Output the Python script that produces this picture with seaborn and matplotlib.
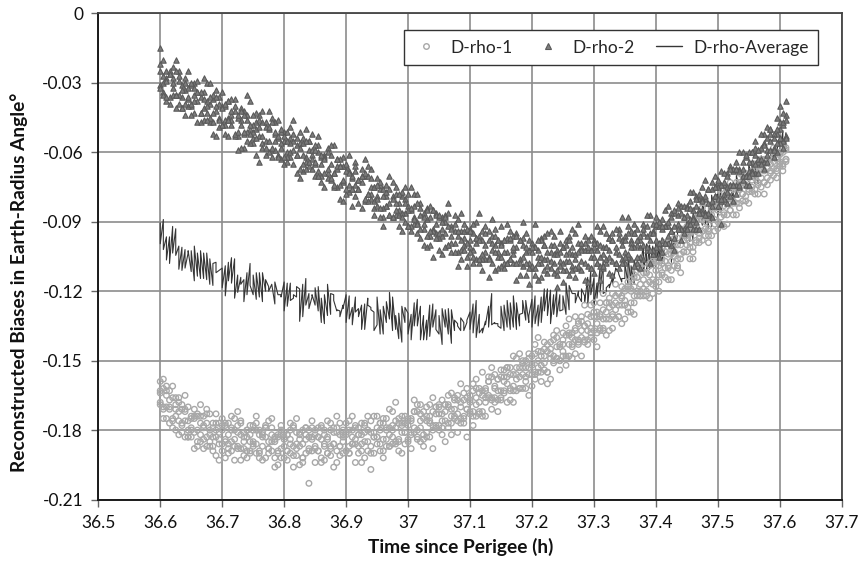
import numpy as np
import pandas as pd
import matplotlib
matplotlib.use("Agg")
import matplotlib.pyplot as plt
import seaborn as sns
from matplotlib.lines import Line2D
from matplotlib.ticker import FixedLocator, FuncFormatter

# ---------------- data ----------------
time_h = [
    36.600, 36.605, 36.610, 36.615, 36.620, 36.625, 36.630, 36.635, 36.640, 36.645,
    36.650, 36.655, 36.660, 36.665, 36.670, 36.675, 36.680, 36.685, 36.690, 36.695,
    36.700, 36.705, 36.710, 36.715, 36.720, 36.725, 36.730, 36.735, 36.740, 36.745,
    36.750, 36.755, 36.760, 36.765, 36.770, 36.775, 36.780, 36.785, 36.790, 36.795,
    36.800, 36.805, 36.810, 36.815, 36.820, 36.825, 36.830, 36.835, 36.840, 36.845,
    36.850, 36.855, 36.860, 36.865, 36.870, 36.875, 36.880, 36.885, 36.890, 36.895,
    36.900, 36.905, 36.910, 36.915, 36.920, 36.925, 36.930, 36.935, 36.940, 36.945,
    36.950, 36.955, 36.960, 36.965, 36.970, 36.975, 36.980, 36.985, 36.990, 36.995,
    37.000, 37.005, 37.010, 37.015, 37.020, 37.025, 37.030, 37.035, 37.040, 37.045,
    37.050, 37.055, 37.060, 37.065, 37.070, 37.075, 37.080, 37.085, 37.090, 37.095,
    37.100, 37.105, 37.110, 37.115, 37.120, 37.125, 37.130, 37.135, 37.140, 37.145,
    37.150, 37.155, 37.160, 37.165, 37.170, 37.175, 37.180, 37.185, 37.190, 37.195,
    37.200, 37.205, 37.210, 37.215, 37.220, 37.225, 37.230, 37.235, 37.240, 37.245,
    37.250, 37.255, 37.260, 37.265, 37.270, 37.275, 37.280, 37.285, 37.290, 37.295,
    37.300, 37.305, 37.310, 37.315, 37.320, 37.325, 37.330, 37.335, 37.340, 37.345,
    37.350, 37.355, 37.360, 37.365, 37.370, 37.375, 37.380, 37.385, 37.390, 37.395,
    37.400, 37.405, 37.410, 37.415, 37.420, 37.425, 37.430, 37.435, 37.440, 37.445,
    37.450, 37.455, 37.460, 37.465, 37.470, 37.475, 37.480, 37.485, 37.490, 37.495,
    37.500, 37.505, 37.510, 37.515, 37.520, 37.525, 37.530, 37.535, 37.540, 37.545,
    37.550, 37.555, 37.560, 37.565, 37.570, 37.575, 37.580, 37.585, 37.590, 37.595,
    37.600, 37.605, 37.610,
]

rho1_a = [
    -0.159, -0.170, -0.165, -0.177, -0.161, -0.174, -0.172, -0.181, -0.171, -0.180,
    -0.183, -0.171, -0.180, -0.169, -0.188, -0.177, -0.187, -0.179, -0.173, -0.186,
    -0.180, -0.192, -0.177, -0.185, -0.175, -0.188, -0.182, -0.191, -0.180, -0.185,
    -0.187, -0.177, -0.192, -0.182, -0.179, -0.190, -0.175, -0.185, -0.189, -0.182,
    -0.181, -0.193, -0.184, -0.178, -0.188, -0.195, -0.180, -0.190, -0.183, -0.176,
    -0.187, -0.179, -0.194, -0.182, -0.190, -0.177, -0.186, -0.181, -0.191, -0.182,
    -0.177, -0.187, -0.183, -0.194, -0.179, -0.189, -0.181, -0.174, -0.187, -0.190,
    -0.186, -0.180, -0.189, -0.175, -0.182, -0.172, -0.186, -0.177, -0.190, -0.174,
    -0.176, -0.188, -0.172, -0.180, -0.169, -0.182, -0.176, -0.183, -0.166, -0.178,
    -0.180, -0.167, -0.176, -0.169, -0.182, -0.171, -0.165, -0.177, -0.167, -0.171,
    -0.165, -0.174, -0.158, -0.168, -0.174, -0.163, -0.159, -0.167, -0.156, -0.172,
    -0.163, -0.154, -0.168, -0.156, -0.163, -0.149, -0.157, -0.151, -0.162, -0.153,
    -0.148, -0.155, -0.150, -0.159, -0.142, -0.155, -0.145, -0.148, -0.137, -0.150,
    -0.148, -0.135, -0.143, -0.138, -0.147, -0.134, -0.148, -0.135, -0.130, -0.138,
    -0.131, -0.138, -0.125, -0.132, -0.139, -0.125, -0.130, -0.117, -0.131, -0.123,
    -0.126, -0.116, -0.129, -0.118, -0.114, -0.122, -0.108, -0.122, -0.113, -0.115,
    -0.107, -0.113, -0.101, -0.114, -0.104, -0.115, -0.103, -0.097, -0.106, -0.098,
    -0.103, -0.095, -0.103, -0.089, -0.095, -0.084, -0.096, -0.088, -0.096, -0.083,
    -0.083, -0.091, -0.083, -0.075, -0.085, -0.075, -0.087, -0.076, -0.078, -0.069,
    -0.077, -0.068, -0.078, -0.069, -0.063, -0.073, -0.067, -0.072, -0.062, -0.067,
    -0.060, -0.066, -0.059,
]

rho1_b = [
    -0.168, -0.158, -0.175, -0.167, -0.175, -0.166, -0.182, -0.171, -0.176, -0.170,
    -0.174, -0.188, -0.173, -0.182, -0.179, -0.187, -0.173, -0.183, -0.191, -0.177,
    -0.189, -0.178, -0.186, -0.174, -0.193, -0.181, -0.176, -0.188, -0.192, -0.178,
    -0.178, -0.186, -0.180, -0.193, -0.183, -0.176, -0.189, -0.196, -0.182, -0.192,
    -0.192, -0.182, -0.186, -0.191, -0.175, -0.187, -0.194, -0.179, -0.189, -0.184,
    -0.180, -0.189, -0.184, -0.193, -0.176, -0.188, -0.179, -0.194, -0.182, -0.190,
    -0.189, -0.176, -0.186, -0.179, -0.190, -0.182, -0.192, -0.180, -0.176, -0.183,
    -0.174, -0.189, -0.177, -0.184, -0.171, -0.186, -0.179, -0.189, -0.174, -0.181,
    -0.185, -0.175, -0.179, -0.169, -0.185, -0.175, -0.181, -0.169, -0.178, -0.170,
    -0.173, -0.182, -0.169, -0.177, -0.164, -0.175, -0.181, -0.168, -0.177, -0.162,
    -0.172, -0.160, -0.174, -0.164, -0.165, -0.174, -0.166, -0.153, -0.168, -0.158,
    -0.154, -0.164, -0.157, -0.167, -0.148, -0.158, -0.162, -0.150, -0.153, -0.165,
    -0.161, -0.143, -0.155, -0.148, -0.151, -0.143, -0.158, -0.139, -0.149, -0.144,
    -0.143, -0.149, -0.132, -0.149, -0.136, -0.141, -0.131, -0.142, -0.137, -0.126,
    -0.141, -0.131, -0.136, -0.121, -0.129, -0.137, -0.121, -0.128, -0.121, -0.134,
    -0.119, -0.129, -0.120, -0.125, -0.120, -0.109, -0.119, -0.112, -0.123, -0.107,
    -0.118, -0.107, -0.113, -0.107, -0.115, -0.101, -0.105, -0.110, -0.093, -0.103,
    -0.097, -0.106, -0.091, -0.098, -0.087, -0.098, -0.090, -0.099, -0.084, -0.089,
    -0.093, -0.081, -0.087, -0.091, -0.073, -0.081, -0.076, -0.084, -0.070, -0.079,
    -0.070, -0.075, -0.069, -0.078, -0.071, -0.063, -0.074, -0.065, -0.070, -0.060,
    -0.066, -0.058, -0.064,
]

rho1_c = [
    -0.164, -0.175, -0.163, -0.171, -0.166, -0.180, -0.166, -0.178, -0.165, -0.183,
    -0.180, -0.175, -0.187, -0.174, -0.184, -0.171, -0.182, -0.187, -0.180, -0.193,
    -0.175, -0.184, -0.190, -0.179, -0.187, -0.172, -0.193, -0.181, -0.183, -0.189,
    -0.185, -0.174, -0.190, -0.181, -0.192, -0.188, -0.179, -0.183, -0.195, -0.180,
    -0.183, -0.189, -0.177, -0.196, -0.181, -0.184, -0.192, -0.182, -0.203, -0.179,
    -0.194, -0.183, -0.178, -0.186, -0.190, -0.180, -0.196, -0.174, -0.187, -0.183,
    -0.181, -0.190, -0.174, -0.186, -0.182, -0.194, -0.178, -0.185, -0.197, -0.174,
    -0.183, -0.177, -0.192, -0.180, -0.187, -0.178, -0.168, -0.184, -0.178, -0.186,
    -0.178, -0.182, -0.167, -0.184, -0.173, -0.187, -0.170, -0.177, -0.188, -0.173,
    -0.169, -0.176, -0.185, -0.165, -0.174, -0.167, -0.176, -0.160, -0.174, -0.183,
    -0.168, -0.178, -0.162, -0.172, -0.155, -0.168, -0.157, -0.171, -0.161, -0.163,
    -0.167, -0.159, -0.153, -0.162, -0.168, -0.153, -0.147, -0.162, -0.157, -0.147,
    -0.151, -0.158, -0.140, -0.155, -0.145, -0.160, -0.147, -0.151, -0.140, -0.154,
    -0.138, -0.152, -0.139, -0.143, -0.131, -0.143, -0.137, -0.126, -0.143, -0.140,
    -0.125, -0.144, -0.131, -0.137, -0.125, -0.127, -0.136, -0.122, -0.126, -0.118,
    -0.132, -0.119, -0.115, -0.130, -0.111, -0.120, -0.115, -0.120, -0.109, -0.121,
    -0.111, -0.120, -0.106, -0.099, -0.109, -0.111, -0.097, -0.106, -0.112, -0.094,
    -0.092, -0.099, -0.106, -0.094, -0.099, -0.089, -0.082, -0.094, -0.089, -0.094,
    -0.085, -0.076, -0.092, -0.078, -0.082, -0.087, -0.073, -0.069, -0.081, -0.074,
    -0.082, -0.072, -0.065, -0.074, -0.067, -0.078, -0.063, -0.068, -0.058, -0.071,
    -0.061, -0.068, -0.063,
]

rho1_d = [
    -0.163, -0.171, -0.161, -0.170, -0.176, -0.169, -0.176, -0.169, -0.183, -0.176,
    -0.179, -0.174, -0.185, -0.177, -0.174, -0.183, -0.180, -0.189, -0.177, -0.184,
    -0.178, -0.185, -0.182, -0.189, -0.180, -0.187, -0.177, -0.185, -0.189, -0.182,
    -0.186, -0.180, -0.189, -0.183, -0.178, -0.185, -0.182, -0.192, -0.183, -0.188,
    -0.184, -0.189, -0.180, -0.187, -0.191, -0.182, -0.186, -0.179, -0.188, -0.183,
    -0.188, -0.183, -0.192, -0.180, -0.184, -0.187, -0.181, -0.189, -0.177, -0.185,
    -0.182, -0.190, -0.180, -0.184, -0.187, -0.177, -0.185, -0.180, -0.190, -0.181,
    -0.183, -0.177, -0.184, -0.179, -0.187, -0.180, -0.176, -0.185, -0.177, -0.181,
    -0.175, -0.181, -0.172, -0.183, -0.176, -0.184, -0.174, -0.176, -0.180, -0.170,
    -0.178, -0.173, -0.169, -0.179, -0.171, -0.174, -0.167, -0.175, -0.164, -0.171,
    -0.167, -0.172, -0.166, -0.162, -0.172, -0.162, -0.165, -0.157, -0.166, -0.167,
    -0.166, -0.157, -0.160, -0.153, -0.161, -0.156, -0.162, -0.153, -0.150, -0.156,
    -0.152, -0.156, -0.146, -0.152, -0.154, -0.146, -0.149, -0.141, -0.149, -0.143,
    -0.146, -0.139, -0.148, -0.140, -0.137, -0.142, -0.133, -0.141, -0.134, -0.136,
    -0.129, -0.134, -0.137, -0.128, -0.132, -0.123, -0.131, -0.125, -0.131, -0.122,
    -0.124, -0.118, -0.125, -0.114, -0.122, -0.117, -0.122, -0.112, -0.116, -0.108,
    -0.109, -0.116, -0.108, -0.110, -0.101, -0.107, -0.100, -0.109, -0.100, -0.103,
    -0.100, -0.094, -0.101, -0.093, -0.097, -0.087, -0.093, -0.096, -0.085, -0.091,
    -0.084, -0.088, -0.079, -0.087, -0.080, -0.082, -0.075, -0.082, -0.073, -0.081,
    -0.076, -0.070, -0.076, -0.066, -0.075, -0.068, -0.071, -0.063, -0.067, -0.063,
    -0.065, -0.060, -0.063,
]

rho1_e = [
    -0.169, -0.162, -0.170, -0.163, -0.179, -0.171, -0.168, -0.177, -0.172, -0.183,
    -0.175, -0.181, -0.174, -0.185, -0.178, -0.173, -0.185, -0.177, -0.183, -0.181,
    -0.186, -0.177, -0.188, -0.180, -0.184, -0.178, -0.188, -0.183, -0.180, -0.190,
    -0.180, -0.190, -0.182, -0.187, -0.179, -0.188, -0.185, -0.184, -0.190, -0.178,
    -0.187, -0.182, -0.190, -0.179, -0.186, -0.181, -0.192, -0.184, -0.180, -0.189,
    -0.182, -0.189, -0.179, -0.187, -0.183, -0.191, -0.186, -0.179, -0.187, -0.180,
    -0.189, -0.180, -0.186, -0.178, -0.182, -0.186, -0.177, -0.189, -0.181, -0.183,
    -0.179, -0.186, -0.175, -0.187, -0.179, -0.183, -0.185, -0.175, -0.181, -0.177,
    -0.184, -0.176, -0.181, -0.172, -0.179, -0.172, -0.183, -0.174, -0.172, -0.179,
    -0.170, -0.179, -0.172, -0.170, -0.177, -0.166, -0.173, -0.170, -0.175, -0.166,
    -0.173, -0.163, -0.169, -0.173, -0.163, -0.166, -0.159, -0.166, -0.162, -0.158,
    -0.157, -0.163, -0.153, -0.163, -0.156, -0.163, -0.153, -0.156, -0.159, -0.149,
    -0.156, -0.147, -0.153, -0.146, -0.148, -0.155, -0.142, -0.150, -0.144, -0.150,
    -0.141, -0.148, -0.138, -0.144, -0.141, -0.133, -0.140, -0.135, -0.141, -0.131,
    -0.137, -0.129, -0.130, -0.136, -0.125, -0.132, -0.126, -0.132, -0.121, -0.126,
    -0.120, -0.127, -0.119, -0.122, -0.114, -0.122, -0.112, -0.117, -0.108, -0.117,
    -0.116, -0.109, -0.112, -0.103, -0.110, -0.104, -0.109, -0.100, -0.104, -0.096,
    -0.096, -0.101, -0.094, -0.099, -0.089, -0.094, -0.087, -0.093, -0.087, -0.082,
    -0.090, -0.081, -0.086, -0.080, -0.085, -0.076, -0.082, -0.073, -0.078, -0.074,
    -0.071, -0.077, -0.071, -0.073, -0.066, -0.073, -0.063, -0.069, -0.064, -0.068,
    -0.064, -0.065, -0.058,
]

rho2_a = [
    -0.022, -0.034, -0.028, -0.039, -0.023, -0.035, -0.029, -0.041, -0.033, -0.025,
    -0.040, -0.030, -0.047, -0.036, -0.041, -0.030, -0.047, -0.037, -0.042, -0.036,
    -0.040, -0.052, -0.038, -0.048, -0.037, -0.053, -0.046, -0.058, -0.044, -0.050,
    -0.056, -0.047, -0.053, -0.042, -0.061, -0.050, -0.059, -0.047, -0.054, -0.063,
    -0.051, -0.060, -0.049, -0.065, -0.057, -0.071, -0.054, -0.062, -0.059, -0.067,
    -0.065, -0.057, -0.073, -0.061, -0.071, -0.065, -0.057, -0.075, -0.066, -0.073,
    -0.066, -0.077, -0.071, -0.064, -0.076, -0.084, -0.070, -0.078, -0.067, -0.084,
    -0.083, -0.076, -0.088, -0.074, -0.082, -0.073, -0.087, -0.082, -0.094, -0.080,
    -0.083, -0.094, -0.078, -0.090, -0.084, -0.100, -0.089, -0.096, -0.085, -0.095,
    -0.097, -0.088, -0.095, -0.086, -0.103, -0.094, -0.103, -0.086, -0.100, -0.094,
    -0.093, -0.102, -0.090, -0.108, -0.098, -0.106, -0.094, -0.102, -0.111, -0.098,
    -0.109, -0.098, -0.103, -0.094, -0.108, -0.101, -0.113, -0.097, -0.103, -0.108,
    -0.099, -0.113, -0.102, -0.108, -0.096, -0.106, -0.094, -0.112, -0.102, -0.107,
    -0.108, -0.098, -0.113, -0.104, -0.095, -0.110, -0.101, -0.115, -0.098, -0.105,
    -0.098, -0.108, -0.094, -0.110, -0.101, -0.112, -0.098, -0.103, -0.093, -0.106,
    -0.103, -0.092, -0.106, -0.095, -0.108, -0.098, -0.091, -0.102, -0.087, -0.104,
    -0.092, -0.101, -0.093, -0.085, -0.096, -0.100, -0.086, -0.091, -0.083, -0.093,
    -0.091, -0.081, -0.093, -0.083, -0.085, -0.075, -0.086, -0.076, -0.088, -0.075,
    -0.073, -0.081, -0.074, -0.082, -0.066, -0.074, -0.067, -0.075, -0.060, -0.070,
    -0.068, -0.060, -0.069, -0.059, -0.064, -0.052, -0.059, -0.050, -0.062, -0.052,
    -0.047, -0.055, -0.044,
]

rho2_b = [
    -0.031, -0.020, -0.038, -0.026, -0.032, -0.020, -0.039, -0.031, -0.044, -0.037,
    -0.031, -0.043, -0.034, -0.047, -0.028, -0.043, -0.039, -0.052, -0.033, -0.045,
    -0.048, -0.040, -0.045, -0.037, -0.053, -0.045, -0.058, -0.042, -0.051, -0.038,
    -0.048, -0.061, -0.044, -0.056, -0.047, -0.060, -0.045, -0.055, -0.061, -0.051,
    -0.065, -0.051, -0.062, -0.055, -0.061, -0.051, -0.068, -0.050, -0.066, -0.061,
    -0.057, -0.068, -0.062, -0.075, -0.058, -0.072, -0.069, -0.063, -0.080, -0.062,
    -0.078, -0.068, -0.083, -0.066, -0.072, -0.070, -0.081, -0.066, -0.080, -0.075,
    -0.071, -0.088, -0.076, -0.083, -0.070, -0.088, -0.082, -0.092, -0.079, -0.086,
    -0.092, -0.085, -0.091, -0.078, -0.097, -0.086, -0.101, -0.083, -0.093, -0.086,
    -0.088, -0.104, -0.087, -0.100, -0.092, -0.099, -0.089, -0.106, -0.097, -0.105,
    -0.101, -0.091, -0.106, -0.096, -0.111, -0.092, -0.105, -0.089, -0.100, -0.110,
    -0.099, -0.110, -0.091, -0.106, -0.096, -0.115, -0.098, -0.109, -0.095, -0.102,
    -0.110, -0.101, -0.115, -0.097, -0.106, -0.095, -0.110, -0.104, -0.113, -0.099,
    -0.101, -0.111, -0.103, -0.093, -0.114, -0.099, -0.107, -0.102, -0.116, -0.096,
    -0.112, -0.102, -0.105, -0.092, -0.108, -0.097, -0.113, -0.093, -0.104, -0.098,
    -0.096, -0.105, -0.098, -0.109, -0.093, -0.101, -0.106, -0.087, -0.098, -0.094,
    -0.101, -0.092, -0.103, -0.092, -0.083, -0.094, -0.097, -0.082, -0.093, -0.083,
    -0.083, -0.091, -0.077, -0.093, -0.080, -0.085, -0.080, -0.087, -0.073, -0.079,
    -0.083, -0.068, -0.078, -0.069, -0.074, -0.081, -0.064, -0.067, -0.072, -0.062,
    -0.060, -0.068, -0.061, -0.069, -0.052, -0.064, -0.054, -0.059, -0.052, -0.060,
    -0.056, -0.043, -0.053,
]

rho2_c = [
    -0.015, -0.030, -0.025, -0.036, -0.028, -0.041, -0.025, -0.036, -0.028, -0.040,
    -0.044, -0.035, -0.029, -0.043, -0.034, -0.040, -0.030, -0.047, -0.053, -0.039,
    -0.034, -0.046, -0.053, -0.044, -0.042, -0.059, -0.041, -0.052, -0.035, -0.056,
    -0.051, -0.043, -0.064, -0.047, -0.055, -0.042, -0.062, -0.052, -0.046, -0.058,
    -0.055, -0.064, -0.054, -0.046, -0.069, -0.056, -0.061, -0.067, -0.055, -0.052,
    -0.070, -0.053, -0.065, -0.062, -0.069, -0.057, -0.075, -0.067, -0.063, -0.081,
    -0.068, -0.061, -0.076, -0.074, -0.082, -0.067, -0.063, -0.081, -0.075, -0.087,
    -0.079, -0.074, -0.092, -0.079, -0.087, -0.079, -0.075, -0.087, -0.086, -0.075,
    -0.078, -0.075, -0.088, -0.095, -0.087, -0.093, -0.084, -0.100, -0.105, -0.091,
    -0.102, -0.093, -0.090, -0.082, -0.096, -0.087, -0.109, -0.094, -0.091, -0.109,
    -0.098, -0.108, -0.097, -0.086, -0.106, -0.100, -0.114, -0.096, -0.093, -0.105,
    -0.092, -0.103, -0.108, -0.098, -0.102, -0.095, -0.106, -0.090, -0.113, -0.117,
    -0.103, -0.091, -0.108, -0.114, -0.100, -0.112, -0.103, -0.096, -0.118, -0.094,
    -0.116, -0.104, -0.096, -0.109, -0.106, -0.091, -0.111, -0.096, -0.102, -0.110,
    -0.101, -0.092, -0.115, -0.104, -0.095, -0.102, -0.095, -0.108, -0.110, -0.088,
    -0.108, -0.088, -0.099, -0.091, -0.100, -0.110, -0.095, -0.096, -0.108, -0.091,
    -0.088, -0.105, -0.089, -0.099, -0.092, -0.086, -0.102, -0.087, -0.098, -0.088,
    -0.087, -0.077, -0.088, -0.079, -0.093, -0.080, -0.072, -0.082, -0.083, -0.070,
    -0.075, -0.091, -0.069, -0.075, -0.079, -0.068, -0.078, -0.060, -0.067, -0.074,
    -0.074, -0.064, -0.055, -0.064, -0.058, -0.067, -0.049, -0.055, -0.058, -0.045,
    -0.040, -0.058, -0.038,
]

rho2_d = [
    -0.025, -0.035, -0.029, -0.025, -0.035, -0.025, -0.035, -0.041, -0.030, -0.036,
    -0.039, -0.032, -0.038, -0.034, -0.046, -0.038, -0.045, -0.035, -0.040, -0.046,
    -0.041, -0.048, -0.038, -0.046, -0.052, -0.044, -0.042, -0.051, -0.055, -0.048,
    -0.054, -0.050, -0.046, -0.058, -0.049, -0.055, -0.047, -0.059, -0.053, -0.056,
    -0.053, -0.062, -0.056, -0.052, -0.061, -0.067, -0.056, -0.064, -0.055, -0.063,
    -0.064, -0.060, -0.070, -0.063, -0.060, -0.071, -0.069, -0.063, -0.074, -0.066,
    -0.065, -0.074, -0.070, -0.079, -0.072, -0.070, -0.080, -0.070, -0.078, -0.081,
    -0.080, -0.073, -0.084, -0.077, -0.087, -0.080, -0.078, -0.085, -0.077, -0.090,
    -0.085, -0.092, -0.083, -0.091, -0.082, -0.091, -0.096, -0.088, -0.094, -0.087,
    -0.087, -0.096, -0.101, -0.092, -0.099, -0.091, -0.096, -0.102, -0.094, -0.099,
    -0.103, -0.095, -0.099, -0.106, -0.094, -0.103, -0.098, -0.108, -0.096, -0.103,
    -0.100, -0.108, -0.097, -0.106, -0.104, -0.096, -0.108, -0.100, -0.108, -0.098,
    -0.109, -0.101, -0.105, -0.098, -0.111, -0.103, -0.100, -0.108, -0.104, -0.109,
    -0.101, -0.107, -0.098, -0.111, -0.104, -0.109, -0.102, -0.099, -0.109, -0.102,
    -0.105, -0.099, -0.109, -0.101, -0.106, -0.097, -0.107, -0.101, -0.097, -0.108,
    -0.098, -0.104, -0.094, -0.101, -0.098, -0.105, -0.093, -0.101, -0.095, -0.102,
    -0.098, -0.090, -0.098, -0.092, -0.099, -0.088, -0.092, -0.084, -0.093, -0.088,
    -0.084, -0.089, -0.085, -0.090, -0.078, -0.086, -0.079, -0.086, -0.076, -0.079,
    -0.080, -0.074, -0.080, -0.070, -0.074, -0.067, -0.074, -0.068, -0.070, -0.061,
    -0.064, -0.069, -0.058, -0.063, -0.063, -0.056, -0.064, -0.052, -0.054, -0.056,
    -0.050, -0.048, -0.054,
]

rho2_e = [
    -0.032, -0.027, -0.036, -0.026, -0.030, -0.035, -0.027, -0.033, -0.039, -0.032,
    -0.030, -0.038, -0.034, -0.043, -0.037, -0.046, -0.036, -0.043, -0.036, -0.049,
    -0.048, -0.039, -0.046, -0.042, -0.040, -0.051, -0.048, -0.044, -0.046, -0.052,
    -0.044, -0.054, -0.049, -0.053, -0.058, -0.049, -0.058, -0.051, -0.062, -0.050,
    -0.062, -0.055, -0.060, -0.059, -0.054, -0.058, -0.065, -0.055, -0.064, -0.059,
    -0.059, -0.070, -0.061, -0.069, -0.067, -0.061, -0.074, -0.066, -0.066, -0.072,
    -0.076, -0.069, -0.076, -0.068, -0.076, -0.073, -0.069, -0.078, -0.071, -0.075,
    -0.074, -0.084, -0.079, -0.083, -0.076, -0.088, -0.085, -0.078, -0.088, -0.082,
    -0.092, -0.084, -0.089, -0.082, -0.093, -0.088, -0.085, -0.094, -0.085, -0.097,
    -0.095, -0.090, -0.088, -0.100, -0.093, -0.103, -0.094, -0.098, -0.102, -0.093,
    -0.094, -0.105, -0.097, -0.098, -0.104, -0.095, -0.106, -0.099, -0.103, -0.098,
    -0.105, -0.098, -0.108, -0.097, -0.101, -0.108, -0.098, -0.105, -0.101, -0.110,
    -0.101, -0.110, -0.098, -0.105, -0.100, -0.109, -0.107, -0.100, -0.111, -0.103,
    -0.111, -0.100, -0.107, -0.101, -0.110, -0.103, -0.099, -0.108, -0.101, -0.110,
    -0.099, -0.108, -0.100, -0.109, -0.101, -0.105, -0.098, -0.108, -0.095, -0.100,
    -0.105, -0.095, -0.101, -0.095, -0.105, -0.096, -0.100, -0.092, -0.102, -0.095,
    -0.091, -0.099, -0.092, -0.099, -0.090, -0.094, -0.085, -0.093, -0.086, -0.095,
    -0.093, -0.084, -0.089, -0.080, -0.086, -0.081, -0.087, -0.076, -0.081, -0.075,
    -0.072, -0.080, -0.073, -0.077, -0.067, -0.074, -0.067, -0.074, -0.064, -0.070,
    -0.070, -0.060, -0.065, -0.059, -0.065, -0.057, -0.061, -0.050, -0.059, -0.050,
    -0.054, -0.047, -0.046,
]

x_ticks = [36.5, 36.6, 36.7, 36.8, 36.9, 37.0, 37.1, 37.2, 37.3, 37.4, 37.5, 37.6, 37.7]
y_ticks = [0.0, -0.03, -0.06, -0.09, -0.12, -0.15, -0.18, -0.21]
y_tick_labels = ["0", "-0.03", "-0.06", "-0.09", "-0.12", "-0.15", "-0.18", "-0.21"]

series_names = ["D-rho-1", "D-rho-2", "D-rho-Average"]

# ---------------- tables ----------------
rho1_lists = [rho1_a, rho1_b, rho1_c, rho1_d, rho1_e]
rho2_lists = [rho2_a, rho2_b, rho2_c, rho2_d, rho2_e]
n = len(time_h)
assert all(len(s) == n for s in rho1_lists + rho2_lists)

df1 = pd.DataFrame({"t": time_h * len(rho1_lists), "v": sum(rho1_lists, [])})
df2 = pd.DataFrame({"t": time_h * len(rho2_lists), "v": sum(rho2_lists, [])})

# average of the two detectors, sample by sample; two sample sets are
# traversed alternately (a,b),(b,a),(a,b)... so the trace stays continuous
avg_a = (np.array(rho1_a) + np.array(rho2_a)) / 2.0
avg_b = (np.array(rho1_b) + np.array(rho2_b)) / 2.0
avg_t, avg_v = [], []
for i, t in enumerate(time_h):
    pair = (avg_a[i], avg_b[i]) if i % 2 == 0 else (avg_b[i], avg_a[i])
    avg_t += [t, t]
    avg_v += list(pair)
dfa = pd.DataFrame({"t": avg_t, "v": avg_v})

# ---------------- style ----------------
sns.set_theme(style="white")
plt.rcParams["font.family"] = ["Lato", "DejaVu Sans"]
plt.rcParams["axes.unicode_minus"] = False

c_rho1 = "#a8a8a8"
c_rho2_edge = "#5a5a5a"
c_rho2_face = "#7e7e7e"
c_avg = "#363636"
c_grid = "#8c8c8c"

fig = plt.figure(figsize=(8.63, 5.72), dpi=100)
ax = fig.add_axes([0.1139, 0.1267, 0.8614, 0.8497])

sns.lineplot(data=dfa, x="t", y="v", ax=ax, color=c_avg, linewidth=0.8,
             sort=False, estimator=None, zorder=2, legend=False)
sns.scatterplot(data=df1, x="t", y="v", ax=ax, marker="o", s=16,
                facecolor="none", edgecolor=c_rho1, linewidth=1.0,
                zorder=3, legend=False)
sns.scatterplot(data=df2, x="t", y="v", ax=ax, marker="^", s=15,
                facecolor=c_rho2_face, edgecolor=c_rho2_edge, linewidth=0.8,
                zorder=4, legend=False)

ax.set_xlim(36.5, 37.7)
ax.set_ylim(-0.21, 0.0)
ax.xaxis.set_major_locator(FixedLocator(x_ticks))
ax.xaxis.set_major_formatter(FuncFormatter(lambda v, p: f"{v:g}"))
ax.set_yticks(y_ticks)
ax.set_yticklabels(y_tick_labels)

ax.grid(True, color=c_grid, linewidth=1.2)
ax.set_axisbelow(True)
for side in ["left", "bottom"]:
    ax.spines[side].set_color("#1a1a1a")
    ax.spines[side].set_linewidth(1.4)
for side in ["top", "right"]:
    ax.spines[side].set_color("#444444")
    ax.spines[side].set_linewidth(1.3)

ax.tick_params(axis="both", which="major", direction="out", length=5,
               width=1.0, color="#666666", labelsize=12.5, labelcolor="#111111",
               pad=6, bottom=True, left=True)

ax.set_xlabel("Time since Perigee (h)", fontsize=13.8, fontweight="bold",
              color="#111111")
ax.set_ylabel("Reconstructed Biases in Earth-Radius Angle°", fontsize=13.8,
              fontweight="bold", color="#111111")
ax.xaxis.set_label_coords(0.488, -0.078)
ax.yaxis.set_label_coords(-0.095, 0.447)

handles = [
    Line2D([], [], linestyle="none", marker="o", markersize=4,
           markerfacecolor="none", markeredgecolor=c_rho1, markeredgewidth=1.0),
    Line2D([], [], linestyle="none", marker="^", markersize=4,
           markerfacecolor=c_rho2_face, markeredgecolor=c_rho2_edge,
           markeredgewidth=0.8),
    Line2D([], [], color=c_avg, linewidth=1.0),
]
leg = ax.legend(handles, series_names, loc="upper left", ncol=3,
                bbox_to_anchor=(0.411, 0.966), borderaxespad=0.0,
                frameon=True, fancybox=False, fontsize=12.5,
                handlelength=1.5, columnspacing=1.25, handletextpad=0.65,
                borderpad=0.55)
leg.get_frame().set_edgecolor("#333333")
leg.get_frame().set_linewidth(1.0)
leg.get_frame().set_facecolor("white")
leg.get_frame().set_alpha(1.0)
leg.set_zorder(10)

fig.savefig("out.png", dpi=100)
